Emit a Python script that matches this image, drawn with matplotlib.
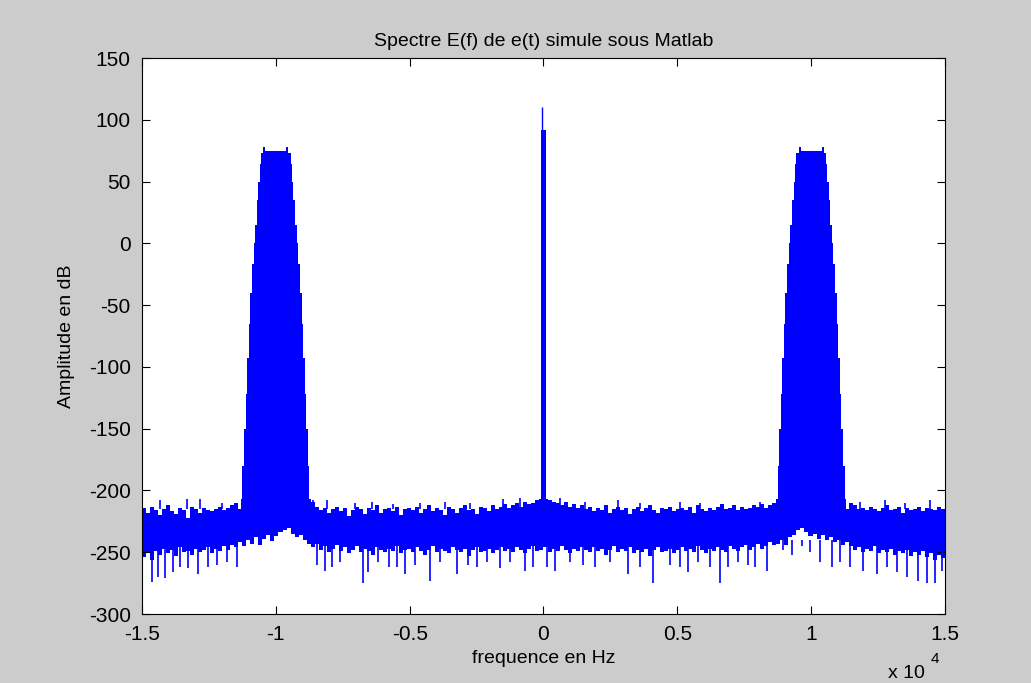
import numpy as np
import matplotlib
matplotlib.use('Agg')
import matplotlib.pyplot as plt

# frequencies are in units of 10^4 Hz, amplitudes in dB

# noise floor, 200 bins over [-1.5, 1.5]
floor_top = [-214, -218, -213, -216, -220, -215, -212, -217, -219, -214, -216, -222, -213, -215, -218, -214, -216, -217, -215, -213, -216, -214, -212, -210,
             -215, -215, -215, -215, -215, -215, -215, -215, -215, -215, -215, -215, -215, -215, -215, -215, -215, -215,
             -209, -213, -216, -214, -218, -215, -213, -217, -214, -221, -216, -213, -215, -219, -214, -216, -212, -218, -215, -214, -217, -213, -220, -215,
             -214, -216, -213, -218, -215, -212, -217, -214, -216, -220, -213, -215, -218, -214, -212, -216, -215, -219, -213, -214, -217, -212, -215, -213,
             -211, -214, -212, -210, -213, -209, -211, -210, -208, -207, -207, -208, -209, -210, -212, -209, -213, -211, -214, -212,
             -215, -213, -217, -214, -216, -212, -218, -215, -213, -216, -214, -219, -215, -213, -217, -214, -212, -216, -218, -214, -215, -213, -217, -215,
             -214, -216, -213, -218, -212, -215, -217, -214, -216, -213, -211, -215, -214, -212, -216, -213, -215, -214, -212, -213, -211, -214, -212, -210,
             -215, -215, -215, -215, -215, -215, -215, -215, -215, -215, -215, -215, -215, -215, -215, -215, -215, -215,
             -210, -212, -215, -214, -216, -213, -215, -217, -214, -212, -216, -215, -213, -218, -214, -216, -215, -213, -217, -214, -215, -216, -213, -215]
floor_bottom = [-254, -250, -256, -249, -252, -247, -251, -248, -253, -246, -250, -249, -252, -247, -250, -248, -246, -251, -247, -249, -245, -248, -244, -246,
                -242, -245, -240, -243, -238, -244, -239, -236, -241, -237, -234, -232, -230, -235, -238, -236, -240, -243,
                -246, -243, -248, -245, -250, -247, -244, -249, -246, -251, -248, -245, -250, -247, -249, -252, -246, -248, -250, -247, -249, -245, -251, -248,
                -247, -250, -246, -249, -252, -248, -245, -250, -247, -249, -251, -246, -248, -250, -247, -253, -248, -246, -250, -249, -247, -251, -248, -246,
                -249, -247, -250, -246, -248, -251, -247, -245, -249, -248, -246, -250, -247, -249, -245, -248, -251, -247, -249, -246,
                -248, -250, -246, -249, -247, -252, -248, -245, -250, -247, -249, -246, -251, -248, -250, -247, -253, -248, -246, -250, -249, -247, -251, -248,
                -246, -249, -247, -250, -245, -248, -251, -247, -249, -246, -248, -250, -245, -247, -249, -246, -244, -248, -246, -243, -247, -245, -242, -244,
                -243, -240, -244, -238, -236, -232, -230, -234, -237, -235, -239, -236, -240, -238, -242, -240, -244, -242,
                -245, -248, -246, -250, -247, -249, -245, -251, -248, -250, -247, -252, -249, -251, -248, -253, -250, -252, -249, -254, -251, -256, -252, -255]

# thin downward spikes of the noise
down_freq = [-1.463, -1.440, -1.414, -1.384, -1.358, -1.328, -1.291, -1.253, -1.220, -1.182, -1.145,
             -0.846, -0.816, -0.790, -0.760,
             -0.674, -0.656, -0.618, -0.577, -0.547, -0.518, -0.480, -0.424, -0.387, -0.323, -0.282, -0.249, -0.211, -0.163, -0.125, -0.069, -0.039,
             0.013, 0.043, 0.099, 0.147, 0.192, 0.248, 0.315, 0.360, 0.409, 0.472, 0.510, 0.540, 0.577, 0.622, 0.659, 0.689, 0.726,
             0.764, 0.790, 0.835, 0.894, 0.928, 0.965, 0.995, 1.033, 1.078, 1.107, 1.145, 1.193, 1.246, 1.283, 1.320, 1.358, 1.399, 1.432, 1.462, 1.488]
down_depth = [-274, -270, -271, -266, -262, -263, -268, -262, -260, -258, -262,
              -260, -265, -262, -258,
              -275, -266, -258, -262, -262, -268, -260, -273, -258, -268, -260, -262, -258, -263, -258, -265, -262,
              -262, -265, -258, -260, -262, -258, -268, -262, -275, -260, -262, -266, -258, -262, -275, -262, -258,
              -260, -262, -265, -248, -252, -245, -250, -258, -262, -258, -262, -265, -268, -262, -266, -270, -273, -275, -275, -265]

# thin upward spikes of the noise
up_freq = [-1.433, -1.332, -1.283, -1.201, -0.861, -0.809, -0.704, -0.641, -0.562, -0.462, -0.368, -0.275, -0.151,
           -0.088, 0.062, 0.155, 0.278, 0.360, 0.510, 0.585, 0.809, 1.100, 1.182, 1.275, 1.350, 1.444]
up_height = [-208, -207, -207, -210, -208, -208, -210, -209, -211, -210, -209, -210, -207,
             -206, -206, -209, -208, -210, -209, -210, -209, -208, -209, -208, -210, -208]

# modulated bands around +-1e4 Hz: half width of each step and its top level
band_center = [-1.0, 1.0]
band_halfwidth = [0.131, 0.125, 0.119, 0.113, 0.108, 0.102, 0.096, 0.090, 0.083, 0.078, 0.072, 0.066, 0.060, 0.055, 0.047, 0.039]
band_top = [-207, -180, -150, -122, -93, -65, -40, -17, 0, 15, 35, 50, 64, 73, 78, 75]

# carrier line at 0 Hz
carrier_freq = 0.0
carrier_peak = 110
carrier_body = 92

xticks = [-1.5, -1, -0.5, 0, 0.5, 1, 1.5]
xtick_labels = ['-1.5', '-1', '-0.5', '0', '0.5', '1', '1.5']
yticks = [-300, -250, -200, -150, -100, -50, 0, 50, 100, 150]

plt.rcParams['font.family'] = ['Liberation Sans', 'DejaVu Sans']
plt.rcParams['axes.unicode_minus'] = False

fig = plt.figure(figsize=(10.31, 6.83), dpi=100, facecolor='#cccccc')
ax = fig.add_axes([0.1377, 0.101, 0.7789, 0.814])
ax.set_facecolor('white')

blue = '#0000ff'

# noise floor as one outline polygon (top edge left->right, bottom edge back)
fb = np.linspace(-1.5, 1.5, len(floor_top) + 1)
xs = np.repeat(fb, 2)[1:-1]
top_y = np.repeat(floor_top, 2)
bot_y = np.repeat(floor_bottom, 2)
ax.fill(np.concatenate([xs, xs[::-1]]), np.concatenate([top_y, bot_y[::-1]]),
        facecolor=blue, edgecolor='none', antialiased=False)
ax.vlines(down_freq, down_depth, -240, color=blue, lw=1.2)
ax.vlines(up_freq, -215, up_height, color=blue, lw=1.2)

# bands as stepped outline polygons
hw = np.array(band_halfwidth)
for c in band_center:
    left_x = np.repeat(c - hw, 2)
    left_y = np.concatenate([[-228], np.repeat(band_top, 2)[:-1]])
    right_x = np.repeat(c + hw[::-1], 2)
    right_y = np.concatenate([np.repeat(band_top[::-1], 2)[1:], [-228]])
    ax.fill(np.concatenate([left_x, right_x]), np.concatenate([left_y, right_y]),
            facecolor=blue, edgecolor='none', antialiased=False)

# carrier
ax.fill_between([carrier_freq - 0.008, carrier_freq + 0.008], -228, carrier_body,
                facecolor=blue, edgecolor='none', antialiased=False)
ax.fill_between([carrier_freq - 0.011, carrier_freq + 0.011], -228, -202,
                facecolor=blue, edgecolor='none', antialiased=False)
ax.vlines([carrier_freq - 0.004], -228, carrier_peak, color=blue, lw=1.0)

ax.set_xlim(-1.5, 1.5)
ax.set_ylim(-300, 150)
ax.set_xticks(xticks)
ax.set_xticklabels(xtick_labels)
ax.set_yticks(yticks)
ax.tick_params(direction='in', length=6, width=0.8, top=True, right=True, labelsize=15, pad=8)
for s in ax.spines.values():
    s.set_linewidth(0.8)

ax.set_title('Spectre E(f) de e(t) simule sous Matlab', fontsize=14, pad=9)
ax.set_xlabel('frequence en Hz', fontsize=14, labelpad=4)
ax.set_ylabel('Amplitude en dB', fontsize=14, labelpad=10)

fig.text(0.861, 0.008, 'x 10', fontsize=14)
fig.text(0.903, 0.030, '4', fontsize=11)

plt.savefig('out.png', dpi=100, facecolor=fig.get_facecolor())
